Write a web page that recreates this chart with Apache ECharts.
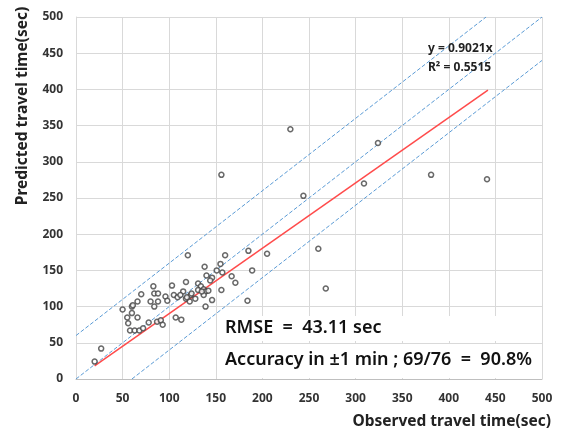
<!DOCTYPE html>
<html>
<head>
<meta charset="utf-8">
<script src="https://cdn.jsdelivr.net/npm/echarts@6/dist/echarts.min.js"></script>
<style>html,body{margin:0;padding:0;background:#fff;}#c{width:563px;height:433px;}</style>
</head>
<body>
<div id="c"></div>
<script>
// Observed (x) vs predicted (y) travel times, seconds
var points = [
  [20,24],[27,42],[50,96],[60,100],[61,102],[66,107],[70,117],[55,85],[56,77],[60,91],
  [58,67],[63,67],[68,67],[72,70],[66,85],[78,78],[87,79],[91,81],[93,75],[80,107],
  [84,100],[88,107],[84,118],[88,118],[83,128],[96,114],[98,108],[103,129],[107,85],[113,82],
  [105,116],[109,113],[115,121],[118,134],[118,111],[122,107],[123,116],[128,111],[131,132],[134,128],
  [137,124],[139,121],[139,100],[146,109],[142,122],[137,116],[120,171],[160,171],[185,177],[189,150],
  [138,155],[155,159],[151,150],[157,147],[140,143],[146,140],[144,136],[167,142],[171,133],[156,123],
  [184,108],[230,345],[324,326],[156,282],[381,282],[441,276],[309,270],[244,253],[260,180],[205,173],
  [268,125],[119,113],[124,118],[131,123],[135,121],[112,116]
];
var regressionLine = [[20,18],[442,399]];
var identityLine = [[0,0],[500,500]];
var upperBand = [[0,60],[440,500]];
var lowerBand = [[60,0],[500,440]];

var chart = echarts.init(document.getElementById('c'));
var font = '"Noto Sans", "DejaVu Sans", sans-serif';
var dashStyle = {color:'#5b9bd5', width:1, type:[4,2]};
chart.setOption({
  animation:false,
  grid:{left:76, right:21, top:17, bottom:54},
  xAxis:{type:'value', min:0, max:500, interval:50,
    axisLine:{show:true, lineStyle:{color:'#bfbfbf'}}, axisTick:{show:false},
    axisLabel:{color:'#333', fontWeight:'bold', fontSize:12, fontFamily:font, margin:14},
    splitLine:{show:true, lineStyle:{color:'#d9d9d9'}}},
  yAxis:{type:'value', min:0, max:500, interval:50,
    axisLine:{show:true, lineStyle:{color:'#d9d9d9'}}, axisTick:{show:false},
    axisLabel:{color:'#333', fontWeight:'bold', fontSize:12, fontFamily:font, margin:13},
    splitLine:{show:true, lineStyle:{color:'#d9d9d9'}}},
  series:[
    {type:'line', data:upperBand, symbol:'none', lineStyle:dashStyle, silent:true},
    {type:'line', data:identityLine, symbol:'none', lineStyle:dashStyle, silent:true},
    {type:'line', data:lowerBand, symbol:'none', lineStyle:dashStyle, silent:true},
    {type:'line', data:regressionLine, symbol:'none', lineStyle:{color:'#ff4b4b', width:1.5}, silent:true},
    {type:'scatter', data:points, symbol:'circle', symbolSize:5,
      itemStyle:{color:'#fff', borderColor:'#444', borderWidth:1.5}, z:5}
  ],
  graphic:[
    {type:'text', position:[23,106], rotation:Math.PI/2, style:{text:'Predicted travel time(sec)', fill:'#222', font:'bold 15.5px '+font, textAlign:'center', textVerticalAlign:'middle'}},
    {type:'text', position:[551,422], style:{text:'Observed travel time(sec)', fill:'#222', font:'bold 15.5px '+font, textAlign:'right', textVerticalAlign:'middle'}},
    {type:'text', position:[428,49], z:10, style:{text:'y = 0.9021x', fill:'#222', font:'bold 12px '+font, textAlign:'left', textVerticalAlign:'middle'}},
    {type:'text', position:[428,68], z:10, style:{text:'R² = 0.5515', fill:'#222', font:'bold 12px '+font, textAlign:'left', textVerticalAlign:'middle'}},
    {type:'rect', shape:{x:218, y:316, width:323, height:25}, style:{fill:'#fff'}, z:10},
    {type:'rect', shape:{x:218, y:344, width:323, height:34}, style:{fill:'#fff'}, z:10},
    {type:'text', position:[225,328], z:11, style:{text:'RMSE  =  43.11 sec', fill:'#111', font:'600 18px '+font, textAlign:'left', textVerticalAlign:'middle'}},
    {type:'text', position:[225,360], z:11, style:{text:'Accuracy in ±1 min ; 69/76  =  90.8%', fill:'#111', font:'600 18px '+font, textAlign:'left', textVerticalAlign:'middle'}}
  ]
});
</script>
</body>
</html>
